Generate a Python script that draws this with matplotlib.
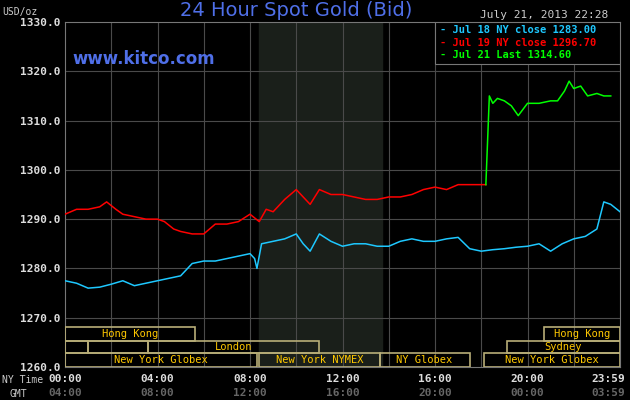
import matplotlib.pyplot as plt
from matplotlib.patches import Rectangle
from matplotlib.transforms import blended_transform_factory

# Dados (hora NY, preco)
blue_h = [0, 0.5, 1, 1.5, 2, 2.5, 3, 3.5, 4, 4.5, 5, 5.5, 6, 6.5, 7, 7.5, 8, 8.2, 8.3, 8.5, 9, 9.5, 10, 10.3, 10.6, 11, 11.5, 12, 12.5, 13, 13.5, 14, 14.5, 15, 15.5, 16, 16.5, 17, 17.5, 18, 18.5, 19, 19.5, 20, 20.5, 21, 21.5, 22, 22.5, 23, 23.3, 23.6, 24]
blue_v = [1277.5, 1277, 1276, 1276.2, 1276.8, 1277.5, 1276.5, 1277, 1277.5, 1278, 1278.5, 1281, 1281.5, 1281.5, 1282, 1282.5, 1283, 1282, 1280, 1285, 1285.5, 1286, 1287, 1285, 1283.5, 1287, 1285.5, 1284.5, 1285, 1285, 1284.5, 1284.5, 1285.5, 1286, 1285.5, 1285.5, 1286, 1286.3, 1284, 1283.5, 1283.8, 1284, 1284.3, 1284.5, 1285, 1283.5, 1285, 1286, 1286.5, 1288, 1293.5, 1293, 1291.5]
red_h = [0, 0.5, 1, 1.5, 1.8, 2.2, 2.5, 3, 3.5, 4, 4.3, 4.7, 5, 5.5, 6, 6.5, 7, 7.5, 8, 8.4, 8.7, 9, 9.5, 10, 10.3, 10.6, 11, 11.5, 12, 12.5, 13, 13.5, 14, 14.5, 15, 15.5, 16, 16.5, 17, 17.5, 18.2]
red_v = [1291, 1292, 1292, 1292.5, 1293.5, 1292, 1291, 1290.5, 1290, 1290, 1289.5, 1288, 1287.5, 1287, 1287, 1289, 1289, 1289.5, 1291, 1289.5, 1292, 1291.5, 1294, 1296, 1294.5, 1293, 1296, 1295, 1295, 1294.5, 1294, 1294, 1294.5, 1294.5, 1295, 1296, 1296.5, 1296, 1297, 1297, 1297]
green_h = [18.2, 18.35, 18.5, 18.7, 19, 19.3, 19.6, 20, 20.5, 21, 21.3, 21.6, 21.8, 22, 22.3, 22.6, 23, 23.3, 23.6]
green_v = [1297, 1315, 1313.5, 1314.5, 1314, 1313, 1311, 1313.5, 1313.5, 1314, 1314, 1316, 1318, 1316.5, 1317, 1315, 1315.5, 1315, 1315]

# Sessoes: (linha, inicio, fim, nome)
sessions = [
    (2, 0, 5.6, "Hong Kong"), (2, 20.7, 24, "Hong Kong"),
    (1, 0, 1, ""), (1, 1, 3.6, ""), (1, 3.6, 11.0, "London"), (1, 19.1, 24, "Sydney"),
    (0, 0, 8.3, "New York Globex"), (0, 8.4, 13.6, "New York NYMEX"),
    (0, 13.6, 17.5, "NY Globex"), (0, 18.1, 24, "New York Globex"),
]
row_y = [1260, 1262.9, 1265.3, 1268.1]

tick_h = [0, 4, 8, 12, 16, 20, 24]
ny_labels = ["00:00", "04:00", "08:00", "12:00", "16:00", "20:00", "23:59"]
gmt_labels = ["04:00", "08:00", "12:00", "16:00", "20:00", "00:00", "03:59"]

mono = "DejaVu Sans Mono"
fig = plt.figure(figsize=(6.3, 4.0), dpi=100, facecolor="black")
ax = fig.add_axes([65/630, 33/400, 555/630, 345/400], facecolor="black")
ax.set_xlim(0, 24)
ax.set_ylim(1260, 1330)

ax.axvspan(8.4, 13.7, color="#1a1f1a", zorder=0)
for h in range(2, 24, 2):
    ax.axvline(h, color="#4a4a4a", lw=0.8, zorder=1)
for v in range(1270, 1330, 10):
    ax.axhline(v, color="#4a4a4a", lw=0.8, zorder=1)

for row, a, b, name in sessions:
    ax.add_patch(Rectangle((a, row_y[row]), b - a, row_y[row + 1] - row_y[row],
                           fill=False, ec="#b8ae78", lw=1.2, zorder=3))
    if name:
        ax.text((a + b) / 2, (row_y[row] + row_y[row + 1]) / 2, name, color="#ffc800",
                ha="center", va="center", fontsize=7.5, family=mono, zorder=4)

ax.plot(blue_h, blue_v, color="#1ec8ff", lw=1.1, zorder=5)
ax.plot(red_h, red_v, color="#ff0000", lw=1.1, zorder=5)
ax.plot(green_h, green_v, color="#00ff00", lw=1.1, zorder=5)

for s in ax.spines.values():
    s.set_color("#777777")
ax.set_yticks(range(1260, 1331, 10))
ax.set_yticklabels([f"{v}.0" for v in range(1260, 1331, 10)], color="#dddddd",
                   fontsize=8, family=mono, fontweight="bold")
ax.set_xticks([])
tr = blended_transform_factory(ax.transData, fig.transFigure)
for i, (h, ny, gmt) in enumerate(zip(tick_h, ny_labels, gmt_labels)):
    ha = "right" if i == len(tick_h) - 1 else "center"
    x = h + 0.2 if i == len(tick_h) - 1 else h
    ax.text(x, 1 - 379/400, ny, color="#dddddd", ha=ha, va="center", fontsize=8,
            family=mono, fontweight="bold", transform=tr, clip_on=False)
    ax.text(x, 1 - 393/400, gmt, color="#666666", ha=ha, va="center", fontsize=8,
            family=mono, fontweight="bold", transform=tr, clip_on=False)
ax.tick_params(length=0, pad=3)
fig.text(2/630, 1 - 380/400, "NY Time", color="#cccccc", fontsize=7, family=mono, va="center")
fig.text(10/630, 1 - 394/400, "GMT", color="#cccccc", fontsize=7, family=mono, va="center")
fig.text(2/630, 1 - 12/400, "USD/oz", color="#cccccc", fontsize=7, family=mono, va="center")

fig.text(0.47, 1 - 11/400, "24 Hour Spot Gold (Bid)", color="#4f6fe8", fontsize=14,
         ha="center", va="center")
ax.text(0.3, 1322.5, "www.kitco.com", color="#4f6fe8", fontsize=12, fontweight="bold",
        va="center")
fig.text(608/630, 1 - 15/400, "July 21, 2013 22:28", color="#cccccc", fontsize=8,
         family=mono, ha="right", va="center")

leg = [("- Jul 18 NY close 1283.00", "#1ec8ff"), ("- Jul 19 NY close 1296.70", "#ff0000"),
       ("- Jul 21 Last 1314.60", "#00ff00")]
for i, (t, c) in enumerate(leg):
    ax.text(16.2, 1328.3 - i * 2.5, t, color=c, fontsize=7.5, family=mono,
            fontweight="bold", va="center", zorder=6)
ax.add_patch(Rectangle((16.0, 1321.5), 8.0, 8.5, fc="black", ec="#777777", lw=0.8, zorder=5))

fig.savefig("out.png", dpi=100, facecolor="black")
